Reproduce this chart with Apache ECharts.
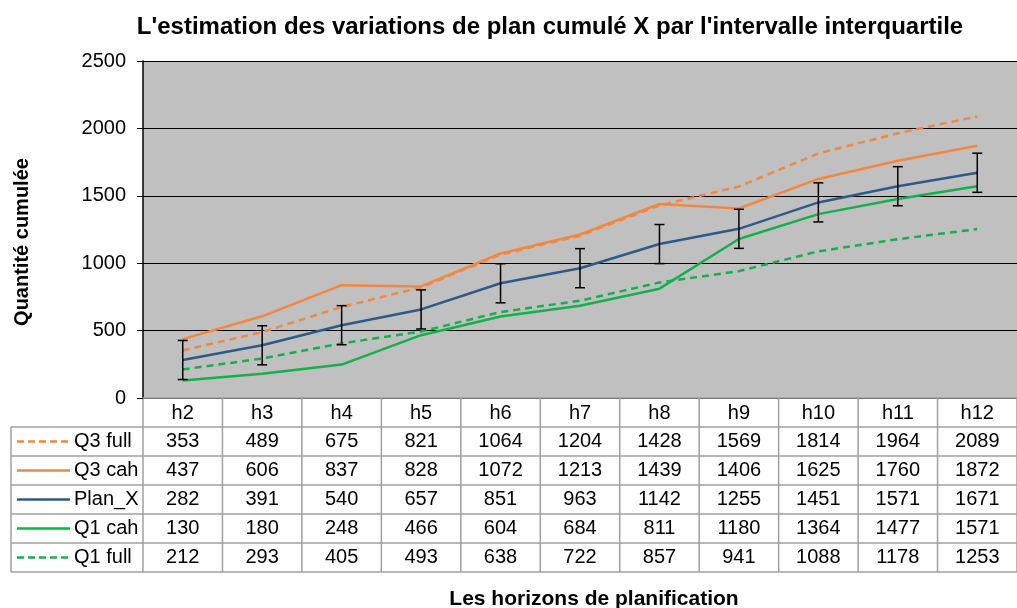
<!DOCTYPE html>
<html>
<head>
<meta charset="utf-8">
<script src="https://cdn.jsdelivr.net/npm/echarts@6/dist/echarts.min.js"></script>
<style>
  html, body { margin: 0; padding: 0; background: #fff; }
  #chart { width: 1017px; height: 608px; }
</style>
</head>
<body>
<div id="chart"></div>
<script>
// données
var categories = ['h2', 'h3', 'h4', 'h5', 'h6', 'h7', 'h8', 'h9', 'h10', 'h11', 'h12'];
var q3Full = [353, 489, 675, 821, 1064, 1204, 1428, 1569, 1814, 1964, 2089];
var q3Cah = [437, 606, 837, 828, 1072, 1213, 1439, 1406, 1625, 1760, 1872];
var planX = [282, 391, 540, 657, 851, 963, 1142, 1255, 1451, 1571, 1671];
var q1Cah = [130, 180, 248, 466, 604, 684, 811, 1180, 1364, 1477, 1571];
var q1Full = [212, 293, 405, 493, 638, 722, 857, 941, 1088, 1178, 1253];
var yTicks = [0, 500, 1000, 1500, 2000, 2500];
var ERR = 145; // barre d'erreur fixe sur Plan_X

var ORANGE = '#F4873E', BLUE = '#2D5B88', GREEN = '#14B14B';
var FONT = 'Liberation Sans, Arial, sans-serif';

var rows = [
  { name: 'Q3 full', data: q3Full, color: ORANGE, dash: true },
  { name: 'Q3 cah', data: q3Cah, color: ORANGE, dash: false },
  { name: 'Plan_X', data: planX, color: BLUE, dash: false },
  { name: 'Q1 cah', data: q1Cah, color: GREEN, dash: false },
  { name: 'Q1 full', data: q1Full, color: GREEN, dash: true }
];

var chart = echarts.init(document.getElementById('chart'));

var errData = planX.map(function (v, i) { return [i, v - ERR, v + ERR]; });

var series = rows.map(function (r) {
  return {
    name: r.name,
    type: 'line',
    data: r.data,
    symbol: 'none',
    z: 3,
    lineStyle: { color: r.color, width: 2.5, type: r.dash ? [7, 5] : 'solid' }
  };
});
series.push({
  type: 'custom',
  z: 5,
  data: errData,
  renderItem: function (params, api) {
    var x = api.coord([api.value(0), 0])[0];
    var lo = api.coord([api.value(0), api.value(1)])[1];
    var hi = api.coord([api.value(0), api.value(2)])[1];
    var st = { stroke: '#000', lineWidth: 1.5 };
    return {
      type: 'group',
      children: [
        { type: 'line', shape: { x1: x, y1: lo, x2: x, y2: hi }, style: st },
        { type: 'line', shape: { x1: x - 5, y1: lo, x2: x + 5, y2: lo }, style: st },
        { type: 'line', shape: { x1: x - 5, y1: hi, x2: x + 5, y2: hi }, style: st }
      ]
    };
  }
});

chart.setOption({
  animation: false,
  title: {
    text: "L'estimation des variations de plan cumulé X par l'intervalle interquartile",
    left: 545, top: 10, textAlign: 'center',
    textStyle: { fontFamily: FONT, fontSize: 24, fontWeight: 'bold', color: '#000' }
  },
  grid: {
    left: 143, top: 61, width: 889, bottom: 210,
    show: true, backgroundColor: '#C0C0C0', borderWidth: 0
  },
  xAxis: {
    type: 'category',
    data: categories,
    axisLine: { lineStyle: { color: '#A0A0A0', width: 1.5 } },
    axisTick: { show: false },
    axisLabel: { margin: 5, fontFamily: FONT, fontSize: 20, color: '#000' }
  },
  yAxis: {
    type: 'value',
    min: yTicks[0], max: yTicks[yTicks.length - 1], interval: 500,
    axisLine: { show: true, lineStyle: { color: '#000', width: 1.5 } },
    axisTick: { show: true, length: 6, lineStyle: { color: '#000' } },
    axisLabel: {
      margin: 17, fontFamily: FONT, fontSize: 20, color: '#000',
      formatter: function (v) { return String(v); }
    },
    splitLine: { lineStyle: { color: '#000', width: 1 } }
  },
  series: series
});

// tableau de données sous le graphique
var x0 = chart.convertToPixel({ xAxisIndex: 0 }, 0);
var x1 = chart.convertToPixel({ xAxisIndex: 0 }, 1);
var colW = x1 - x0;
var yBase = chart.convertToPixel({ yAxisIndex: 0 }, 0);
var rowH = 29;
var tableLeft = 11, plotLeft = 143, right = 1040;
var tableBottom = yBase + rowH * (rows.length + 1);
var gray = { stroke: '#A0A0A0', lineWidth: 1.5 };
var g = [];

for (var k = 1; k <= rows.length + 1; k++) {
  var yy = yBase + rowH * k;
  g.push({ type: 'line', shape: { x1: tableLeft, y1: yy, x2: right, y2: yy }, style: gray });
}
g.push({ type: 'line', shape: { x1: tableLeft, y1: yBase + rowH, x2: tableLeft, y2: tableBottom }, style: gray });
g.push({ type: 'line', shape: { x1: plotLeft, y1: yBase, x2: plotLeft, y2: tableBottom }, style: gray });
for (var c = 1; c <= categories.length; c++) {
  var xb = plotLeft + colW * c;
  g.push({ type: 'line', shape: { x1: xb, y1: yBase, x2: xb, y2: tableBottom }, style: gray });
}

rows.forEach(function (r, ri) {
  var cy = yBase + rowH * (ri + 1) + rowH / 2;
  g.push({
    type: 'line',
    shape: { x1: 17, y1: cy, x2: 70, y2: cy },
    style: { stroke: r.color, lineWidth: 2.5, lineDash: r.dash ? [7, 4] : null }
  });
  g.push({
    type: 'text', x: 74, y: cy,
    style: { text: r.name, fontFamily: FONT, fontSize: 20, fill: '#000', verticalAlign: 'middle', align: 'left' }
  });
  r.data.forEach(function (v, i) {
    g.push({
      type: 'text',
      x: chart.convertToPixel({ xAxisIndex: 0 }, i), y: cy,
      style: { text: String(v), fontFamily: FONT, fontSize: 20, fill: '#000', align: 'center', verticalAlign: 'middle' }
    });
  });
});

g.push({
  type: 'text', x: 22, y: 242, rotation: Math.PI / 2,
  style: { text: 'Quantité cumulée', fontFamily: FONT, fontSize: 20, fontWeight: 'bold', fill: '#000', align: 'center', verticalAlign: 'middle' }
});
g.push({
  type: 'text', x: 594, y: 599,
  style: { text: 'Les horizons de planification', fontFamily: FONT, fontSize: 21, fontWeight: 'bold', fill: '#000', align: 'center', verticalAlign: 'middle' }
});

chart.setOption({ graphic: g });
</script>
</body>
</html>
